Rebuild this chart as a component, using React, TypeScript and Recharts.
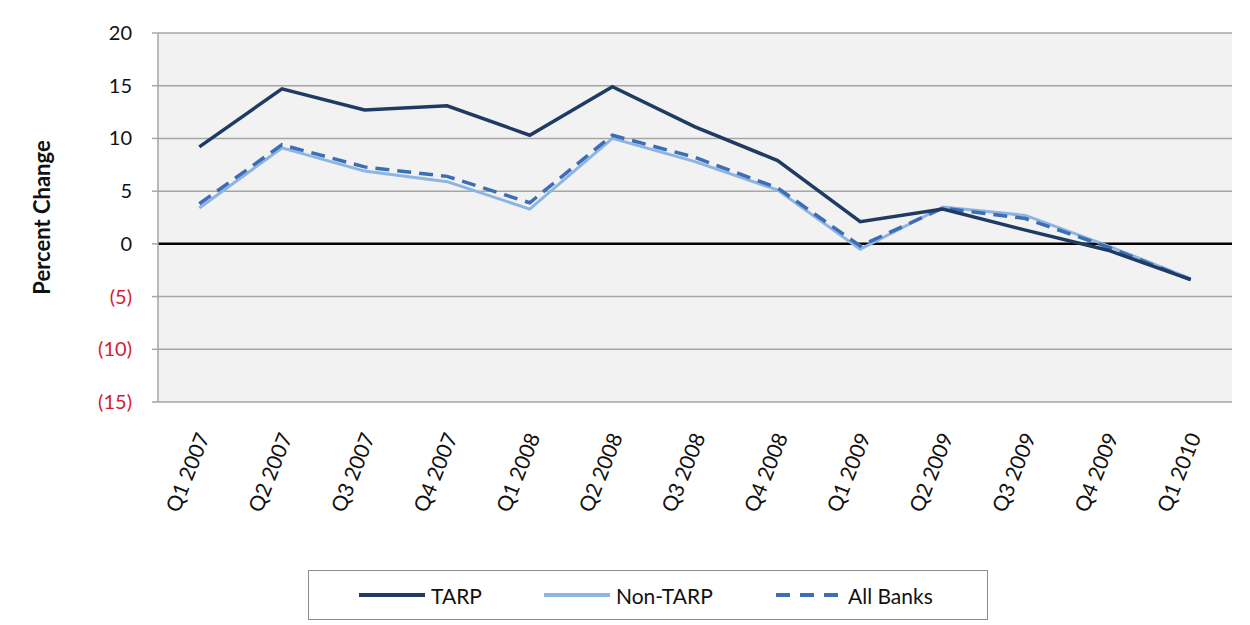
import React from "react";
import {
  LineChart, Line, XAxis, YAxis, CartesianGrid, ReferenceLine, Label,
} from "recharts";

const QUARTERS = [
  "Q1 2007", "Q2 2007", "Q3 2007", "Q4 2007",
  "Q1 2008", "Q2 2008", "Q3 2008", "Q4 2008",
  "Q1 2009", "Q2 2009", "Q3 2009", "Q4 2009",
  "Q1 2010",
];

const TARP     = [9.2, 14.7, 12.7, 13.1, 10.3, 14.9, 11.1, 7.9, 2.1, 3.3, 1.3, -0.6, -3.4];
const NON_TARP = [3.4, 9.1, 6.9, 5.9, 3.3, 10.0, 7.8, 5.1, -0.5, 3.5, 2.7, -0.2, -3.3];
const ALL      = [3.8, 9.4, 7.3, 6.4, 3.9, 10.3, 8.2, 5.3, -0.2, 3.4, 2.4, -0.3, -3.4];

const Y_TICKS = [-15, -10, -5, 0, 5, 10, 15, 20];

const NAVY  = "#1F3B63";
const LIGHT = "#8EB4E3";
const MID   = "#3C6EB4";
const GRID  = "#A6A6A6";
const RED   = "#D6212F";
const FONT  = "Lato, 'Open Sans', sans-serif";

const SERIES = [
  { key: "nonTarp", name: "Non-TARP", color: LIGHT, width: 3, dash: undefined as string | undefined },
  { key: "all", name: "All Banks", color: MID, width: 3.5, dash: "14 8" },
  { key: "tarp", name: "TARP", color: NAVY, width: 3.5, dash: undefined as string | undefined },
];

const data = QUARTERS.map((q, i) => ({
  q,
  tarp: TARP[i],
  nonTarp: NON_TARP[i],
  all: ALL[i],
}));

/* rotated quarter labels hanging under the plot */
function QuarterTick({ x, y, payload }: any) {
  const ax = x + 4;
  const ay = y + 24;
  return (
    <text
      x={ax}
      y={ay}
      transform={`rotate(-68, ${ax}, ${ay})`}
      textAnchor="end"
      dy="0.35em"
      fontSize={21}
      fontFamily={FONT}
      fill="#111"
    >
      {payload.value}
    </text>
  );
}

function ValueTick({ x, y, payload }: any) {
  const v = payload.value as number;
  return (
    <text x={x} y={y} dy="0.35em" textAnchor="end" fontSize={20} fontFamily={FONT}
          fill={v < 0 ? RED : "#111"}>
      {v < 0 ? `(${Math.abs(v)})` : v}
    </text>
  );
}

// axis title, centred on the plot's height
function AxisTitle({ viewBox }: any) {
  const cy = 33 + 369 / 2;
  return (
    <text x={42} y={cy} transform={`rotate(-90, 42, ${cy})`} textAnchor="middle" dy="0.35em"
          fontFamily={FONT} fontSize={22} fontWeight={700} fill="#111">
      Percent Change
    </text>
  );
}

/* legend order as in the original box */
const LEGEND = [
  { name: "TARP", color: NAVY, dash: undefined as string | undefined, left: 50 },
  { name: "Non-TARP", color: LIGHT, dash: undefined as string | undefined, left: 235 },
  { name: "All Banks", color: MID, dash: "14 10", left: 467 },
];

function LegendBox() {
  return (
    <div style={{
      position: "absolute", left: 308, top: 570, width: 680, height: 50,
      border: "1.5px solid #8C8C8C", background: "#fff", boxSizing: "border-box",
      fontFamily: FONT, fontSize: 21, color: "#111",
    }}>
      {LEGEND.map((l) => (
        <div key={l.name} style={{
          position: "absolute", left: l.left, top: 0, height: 48,
          display: "flex", alignItems: "center", gap: 6,
        }}>
          <svg width={66} height={8}>
            <line x1={0} y1={4} x2={66} y2={4} stroke={l.color} strokeWidth={4}
                  strokeDasharray={l.dash} />
          </svg>
          <span>{l.name}</span>
        </div>
      ))}
    </div>
  );
}

export default function App() {
  return (
    <div style={{ position: "absolute", left: 0, top: 0, width: 1250, height: 625, background: "#fff" }}>
      <LineChart
        width={1250}
        height={625}
        data={data}
        margin={{ top: 33, right: 18, bottom: 0, left: 98 }}
      >
        <CartesianGrid vertical={false} stroke={GRID} strokeWidth={1.5} fill="#F2F2F2" />
        <XAxis
          dataKey="q"
          scale="band"
          axisLine={false}
          tickLine={false}
          interval={0}
          tick={<QuarterTick />}
          height={223}
        />
        <YAxis
          domain={[-15, 20]}
          ticks={Y_TICKS}
          width={60}
          axisLine={{ stroke: GRID, strokeWidth: 1.5 }}
          tickLine={{ stroke: GRID, strokeWidth: 1.5 }}
          tickSize={6}
          tickMargin={20}
          tick={<ValueTick />}
        >
          <Label content={<AxisTitle />} />
        </YAxis>
        <ReferenceLine y={0} stroke="#000" strokeWidth={2.5} />
        {SERIES.map((s) => (
          <Line
            key={s.key}
            type="linear"
            dataKey={s.key}
            name={s.name}
            stroke={s.color}
            strokeWidth={s.width}
            strokeDasharray={s.dash}
            dot={false}
            activeDot={false}
            isAnimationActive={false}
          />
        ))}
      </LineChart>
      <LegendBox />
    </div>
  );
}
